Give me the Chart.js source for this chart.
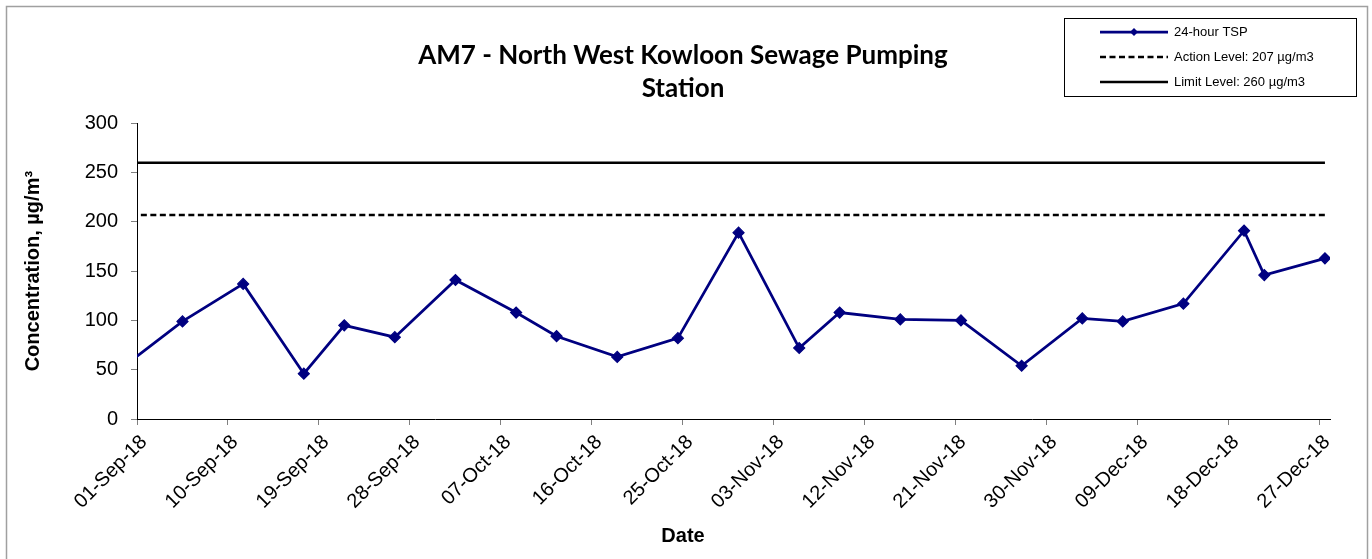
<!DOCTYPE html>
<html>
<head>
<meta charset="utf-8">
<script src="https://cdn.jsdelivr.net/npm/chart.js@4.4.1/dist/chart.umd.min.js"></script>
<style>
html,body{margin:0;padding:0;background:#fff;}
#wrap{position:relative;width:1372px;height:559px;}
</style>
</head>
<body>
<div id="wrap"><canvas id="c" width="1372" height="559"></canvas></div>
<script>
// ---- data ----
const chartTitle = ['AM7 - North West Kowloon Sewage Pumping', 'Station'];
const axisStart = '2018-09-01';
const axisEnd = '2018-12-28';
const sampleDates = ['2018-08-30','2018-09-05','2018-09-11','2018-09-17','2018-09-21','2018-09-26',
  '2018-10-02','2018-10-08','2018-10-12','2018-10-18','2018-10-24','2018-10-30',
  '2018-11-05','2018-11-09','2018-11-15','2018-11-21','2018-11-27',
  '2018-12-03','2018-12-07','2018-12-13','2018-12-19','2018-12-21','2018-12-27'];
const tspValues = [52, 99, 137, 46, 95, 83,
  141, 108, 84, 63, 82, 189,
  72, 108, 101, 100, 54,
  102, 99, 117, 191, 146, 163];
const actionLevel = 207;
const limitLevel = 260;
const seriesLabels = ['24-hour TSP', 'Action Level: 207 µg/m3', 'Limit Level: 260 µg/m3'];
const xTickLabels = ['01-Sep-18','10-Sep-18','19-Sep-18','28-Sep-18','07-Oct-18','16-Oct-18','25-Oct-18',
  '03-Nov-18','12-Nov-18','21-Nov-18','30-Nov-18','09-Dec-18','18-Dec-18','27-Dec-18'];
const yMin = 0, yMax = 300, yStep = 50;
const xTitle = 'Date';
const yTitle = 'Concentration, µg/m³';

// ---- helpers ----
const MONTHS = ['Jan','Feb','Mar','Apr','May','Jun','Jul','Aug','Sep','Oct','Nov','Dec'];
const DAY = 864e5;
const t0 = Date.parse(axisStart);
function dayOf(iso){ return (Date.parse(iso) - t0) / DAY; }
function dayOfLabel(lbl){
  const [d,m,y] = lbl.split('-');
  return (Date.UTC(2000 + (+y), MONTHS.indexOf(m), +d) - t0) / DAY;
}
// Excel-style date axis: each day is a slot, points sit in the middle of their day
const xs = sampleDates.map(d => dayOf(d) + 0.5);
const tspData = xs.map((x,i) => ({x, y: tspValues[i]}));
const actionData = xs.map(x => ({x, y: actionLevel}));
const limitData = xs.map(x => ({x, y: limitLevel}));

const AX = "'Liberation Sans', Arial, sans-serif";
const NAVY = '#000080';

const framePlugin = {
  id: 'frame',
  beforeDraw(chart){
    const ctx = chart.ctx;
    ctx.save();
    ctx.fillStyle = '#fff';
    ctx.fillRect(0,0,chart.width,chart.height);
    ctx.restore();
  },
  afterDraw(chart){
    const ctx = chart.ctx;
    ctx.save();
    // outer chart border
    ctx.strokeStyle = '#a0a0a0';
    ctx.lineWidth = 1.5;
    ctx.strokeRect(6.5, 6.5, 1361, 600);
    // legend box
    ctx.strokeStyle = '#000';
    ctx.lineWidth = 1;
    ctx.strokeRect(1064.5, 18.5, 292, 78);
    ctx.font = '13px ' + AX;
    ctx.textBaseline = 'middle';
    ctx.textAlign = 'left';
    chart.data.datasets.forEach((ds, i) => {
      const y = 32 + 25 * i;
      ctx.save();
      ctx.strokeStyle = ds.borderColor;
      ctx.lineWidth = ds.borderWidth;
      ctx.setLineDash(ds.borderDash || []);
      ctx.beginPath();
      ctx.moveTo(1100, y);
      ctx.lineTo(1168, y);
      ctx.stroke();
      ctx.restore();
      if (ds.pointRadius > 0) {
        ctx.save();
        ctx.fillStyle = ds.pointBackgroundColor;
        ctx.beginPath();
        const cx = 1134, r = 4;
        ctx.moveTo(cx - r, y); ctx.lineTo(cx, y - r); ctx.lineTo(cx + r, y); ctx.lineTo(cx, y + r);
        ctx.closePath();
        ctx.fill();
        ctx.restore();
      }
      ctx.fillStyle = '#000';
      ctx.fillText(ds.label, 1174, y);
    });
    ctx.restore();
  }
};

new Chart(document.getElementById('c'), {
  type: 'line',
  data: {
    datasets: [
      {
        label: seriesLabels[0], data: tspData,
        borderColor: NAVY, borderWidth: 2.75,
        pointStyle: 'rectRot', pointRadius: 5.5, pointBorderWidth: 1.2,
        pointBackgroundColor: NAVY, pointBorderColor: NAVY,
        tension: 0, order: 0
      },
      {
        label: seriesLabels[1], data: actionData,
        borderColor: '#000', borderWidth: 2.5, borderDash: [6, 3.5],
        pointRadius: 0, tension: 0, order: 1
      },
      {
        label: seriesLabels[2], data: limitData,
        borderColor: '#000', borderWidth: 2.5,
        pointRadius: 0, tension: 0, order: 2
      }
    ]
  },
  options: {
    responsive: false,
    animation: false,
    devicePixelRatio: 1,
    events: [],
    layout: { padding: { left: 36, right: 42, top: 0, bottom: 0 } },
    plugins: {
      legend: { display: false },
      tooltip: { enabled: false },
      title: {
        display: true,
        text: chartTitle,
        color: '#000',
        font: { family: "Lato, 'Open Sans', sans-serif", size: 26, weight: 'bold', lineHeight: 1.28 },
        padding: { top: 39, bottom: 17.7 }
      },
      subtitle: {
        display: true,
        position: 'bottom',
        text: xTitle,
        color: '#000',
        font: { family: AX, size: 20, weight: 'bold', lineHeight: 1.2 },
        padding: { top: 0, bottom: 11 }
      }
    },
    scales: {
      x: {
        type: 'linear',
        min: 0,
        max: dayOf(axisEnd),
        afterBuildTicks(scale){ scale.ticks = xTickLabels.map(l => ({ value: dayOfLabel(l) })); },
        afterFit(scale){ scale.height = 105; },
        grid: { drawOnChartArea: false, drawTicks: true, tickLength: 6, color: '#808080' },
        border: { display: true, color: '#000', width: 1 },
        ticks: {
          autoSkip: false, minRotation: 45, maxRotation: 45,
          labelOffset: 7, padding: 5.5,
          color: '#000', font: { family: AX, size: 20 },
          callback: (v, i) => xTickLabels[i]
        }
      },
      y: {
        type: 'linear',
        min: yMin, max: yMax,
        afterFit(scale){ scale.width = 101; },
        grid: { drawOnChartArea: false, drawTicks: true, tickLength: 6, color: '#808080' },
        border: { display: true, color: '#000', width: 1 },
        ticks: { stepSize: yStep, padding: 13, color: '#000', font: { family: AX, size: 20 } },
        title: {
          display: true, text: yTitle, color: '#000',
          font: { family: AX, size: 20, weight: 'bold' },
          padding: { top: -15, bottom: 0 }
        }
      }
    }
  },
  plugins: [framePlugin]
});
</script>
</body>
</html>
